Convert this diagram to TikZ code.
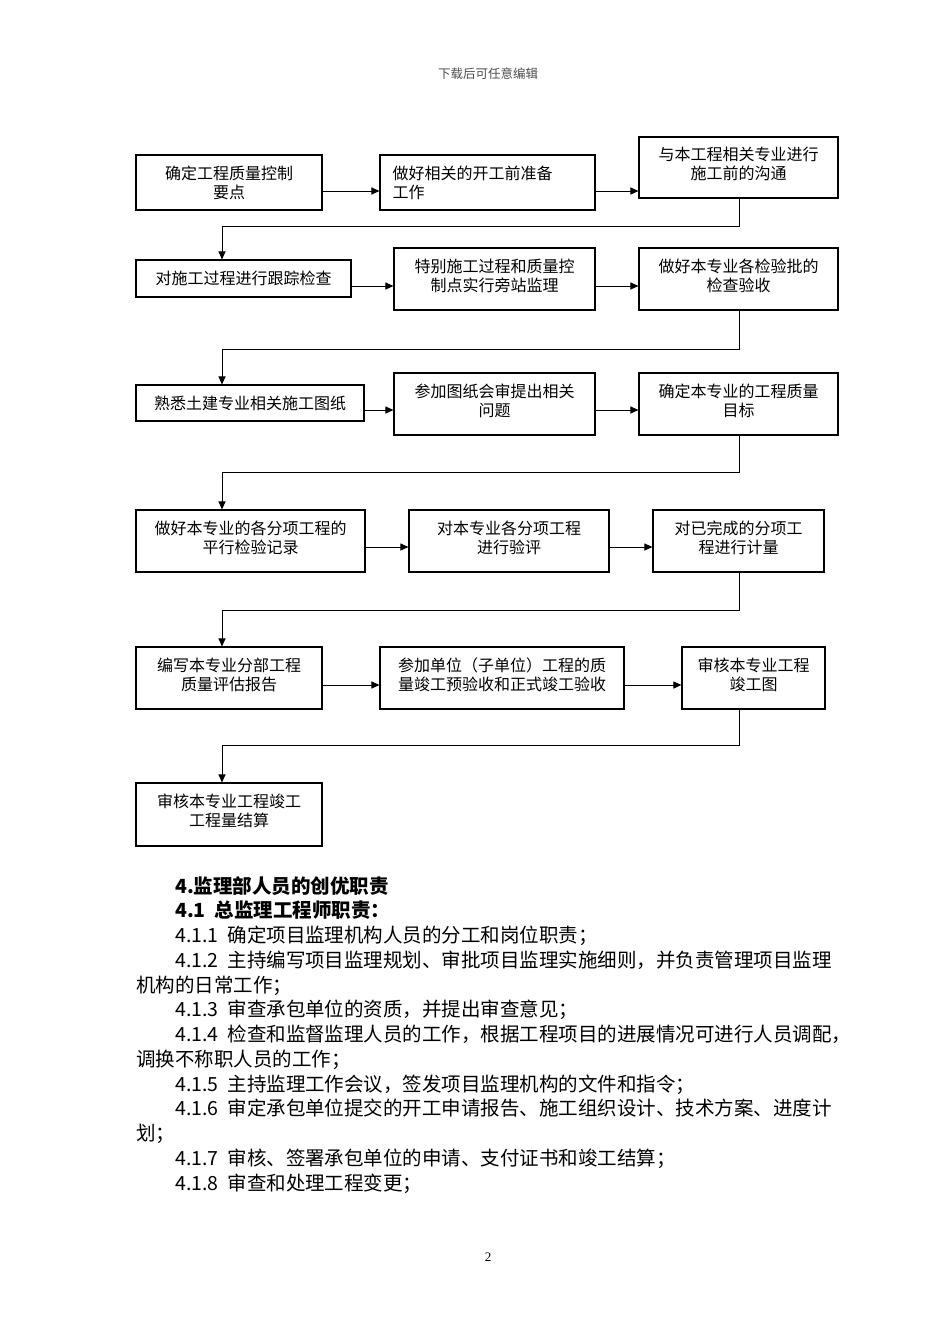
\documentclass[tikz,border=0pt]{standalone}
\usepackage{fontspec}
\setmainfont{Noto Sans CJK SC}
\newfontfamily\numfont{Liberation Serif}
\usepackage{tikz}
\usetikzlibrary{arrows.meta, positioning, calc}
\tikzstyle{task} = [rectangle, draw=black, line width=1.1pt, align=center, inner sep=2pt, font=\fontsize{16}{19}\selectfont]
\tikzstyle{arrow} = [line width=1pt, -{Triangle[length=8pt, width=7pt]}]
\newcommand{\itemno}[1]{#1\hspace{9pt}}
\newcommand{\lift}{\\[-11pt]}

\begin{document}
\begin{tikzpicture}[x=1pt, y=-1pt]
    \useasboundingbox (0,0) rectangle (950,1344);

    % Page header
    \node[font=\fontsize{12.5}{14}\selectfont, text=black!70] (header) at (488,74) {下载后可任意编辑};

    % Guide coordinates: right column, arrow rows, turn points
    \coordinate (rcol) at (739,0);
    \coordinate (r1) at (0,191);
    \coordinate (r2) at (0,286);
    \coordinate (r3) at (0,410);
    \coordinate (r4) at (0,547);
    \coordinate (r5) at (0,685);
    \coordinate (h1) at (222,226);
    \coordinate (h2) at (222,349);
    \coordinate (h3) at (222,472);
    \coordinate (h4) at (222,610);
    \coordinate (h5) at (222,745);

    % Row 1
    \node[task, minimum width=186, minimum height=55] (fix) at (229,182.5) {确定工程质量控制\\要点};
    \node[task, minimum width=215, minimum height=55, text width=190, align=left] (prep) at (487.5,182.5) {做好相关的开工前准备\\工作};
    \node[task, minimum width=199, minimum height=61] (liaise) at (738.5,167.5) {与本工程相关专业进行\\施工前的沟通\lift};

    % Row 2
    \node[task, minimum width=215, minimum height=37] (track) at (243.5,278.5) {对施工过程进行跟踪检查};
    \node[task, minimum width=201, minimum height=62] (station) at (494.5,279) {特别施工过程和质量控\\制点实行旁站监理\lift};
    \node[task, minimum width=199, minimum height=62] (batch) at (738.5,279) {做好本专业各检验批的\\检查验收\lift};

    % Row 3
    \node[task, minimum width=228, minimum height=36] (drawings) at (250,403) {熟悉土建专业相关施工图纸};
    \node[task, minimum width=201, minimum height=62] (review) at (494.5,404) {参加图纸会审提出相关\\问题\lift};
    \node[task, minimum width=199, minimum height=62] (target) at (738.5,404) {确定本专业的工程质量\\目标\lift};

    % Row 4
    \node[task, minimum width=229, minimum height=62] (parallel) at (250.5,541) {做好本专业的各分项工程的\\平行检验记录\lift};
    \node[task, minimum width=200, minimum height=62] (assess) at (509,541) {对本专业各分项工程\\进行验评\lift};
    \node[task, minimum width=171, minimum height=62] (measure) at (738.5,541) {对已完成的分项工\\程进行计量\lift};

    % Row 5
    \node[task, minimum width=186, minimum height=62] (report) at (229,678) {编写本专业分部工程\\质量评估报告\lift};
    \node[task, minimum width=244, minimum height=62] (accept) at (502,678) {参加单位（子单位）工程的质\\量竣工预验收和正式竣工验收\lift};
    \node[task, minimum width=143, minimum height=62] (asbuilt) at (753.5,678) {审核本专业工程\\竣工图\lift};

    % Row 6
    \node[task, minimum width=186, minimum height=63] (settle) at (229,814.5) {审核本专业工程竣工\\工程量结算\lift};

    % Arrows along the rows
    \draw[arrow] (fix.east |- r1) -- (prep.west |- r1);
    \draw[arrow] (prep.east |- r1) -- (liaise.west |- r1);
    \draw[arrow] (track.east |- r2) -- (station.west |- r2);
    \draw[arrow] (station.east |- r2) -- (batch.west |- r2);
    \draw[arrow] (drawings.east |- r3) -- (review.west |- r3);
    \draw[arrow] (review.east |- r3) -- (target.west |- r3);
    \draw[arrow] (parallel.east |- r4) -- (assess.west |- r4);
    \draw[arrow] (assess.east |- r4) -- (measure.west |- r4);
    \draw[arrow] (report.east |- r5) -- (accept.west |- r5);
    \draw[arrow] (accept.east |- r5) -- (asbuilt.west |- r5);

    % Turn-back connectors to the next row
    \draw[arrow] (rcol |- liaise.south) |- (h1) -- (h1 |- track.north);
    \draw[arrow] (rcol |- batch.south) |- (h2) -- (h2 |- drawings.north);
    \draw[arrow] (rcol |- target.south) |- (h3) -- (h3 |- parallel.north);
    \draw[arrow] (rcol |- measure.south) |- (h4) -- (h4 |- report.north);
    \draw[arrow] (rcol |- asbuilt.south) |- (h5) -- (h5 |- settle.north);

    % Text below the chart
    \node[anchor=north west, align=left, inner sep=0, font=\fontsize{19.5}{24.75}\selectfont] (duties) at (136,876) {%
        \hspace*{39pt}\textbf{4.监理部人员的创优职责}\\
        \hspace*{39pt}\textbf{\itemno{4.1}总监理工程师职责：}\\
        \hspace*{39pt}\itemno{4.1.1}确定项目监理机构人员的分工和岗位职责；\\
        \hspace*{39pt}\itemno{4.1.2}主持编写项目监理规划、审批项目监理实施细则，并负责管理项目监理\\
        机构的日常工作；\\
        \hspace*{39pt}\itemno{4.1.3}审查承包单位的资质，并提出审查意见；\\
        \hspace*{39pt}\itemno{4.1.4}检查和监督监理人员的工作，根据工程项目的进展情况可进行人员调配，\\
        调换不称职人员的工作；\\
        \hspace*{39pt}\itemno{4.1.5}主持监理工作会议，签发项目监理机构的文件和指令；\\
        \hspace*{39pt}\itemno{4.1.6}审定承包单位提交的开工申请报告、施工组织设计、技术方案、进度计\\
        划；\\
        \hspace*{39pt}\itemno{4.1.7}审核、签署承包单位的申请、支付证书和竣工结算；\\
        \hspace*{39pt}\itemno{4.1.8}审查和处理工程变更；};

    % Page number
    \node[font=\numfont\fontsize{13}{15}\selectfont] (pageno) at (488,1257) {2};
\end{tikzpicture}
\end{document}
